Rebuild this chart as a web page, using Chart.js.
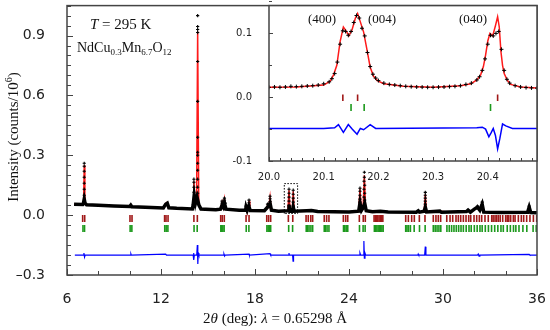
<!DOCTYPE html>
<html>
<head>
<meta charset="utf-8">
<script src="https://cdn.jsdelivr.net/npm/chart.js@4.4.1/dist/chart.umd.min.js"></script>
<style>
html, body { margin: 0; padding: 0; background: #fff; }
#wrap { position: relative; width: 550px; height: 330px; }
#mainChart { position: absolute; left: 0; top: 0; }
#insetChart { position: absolute; left: 225px; top: 0; }
</style>
</head>
<body>
<div id="wrap">
  <canvas id="mainChart" width="550" height="330"></canvas>
  <canvas id="insetChart" width="325" height="190"></canvas>
</div>
<script>
// ---- main pattern: 2theta (deg) vs intensity (counts/10^6) ----
const mainTicksX = [6, 12, 18, 24, 30, 36];
const mainTicksY = [-0.3, 0.0, 0.3, 0.6, 0.9];

// observed background band (dense points drawn as a thick line)
const mainObsBase = [
  [6.45,0.055],[7.0,0.053],[7.05,0.06],[7.1,0.08],[7.15,0.06],[7.25,0.052],[8,0.049],[9,0.046],
  [10.0,0.043],[10.07,0.05],[10.14,0.042],[11,0.04],[12.15,0.036],[12.3,0.055],[12.4,0.06],[12.5,0.037],
  [13,0.034],[14.0,0.031],[14.05,0.05],[14.12,0.1],[14.2,0.06],[14.3,0.09],[14.42,0.05],[14.55,0.031],
  [15.5,0.027],[15.8,0.03],[15.9,0.05],[15.98,0.04],[16.05,0.06],[16.15,0.03],[17,0.024],[17.4,0.024],
  [17.43,0.04],[17.5,0.024],[17.6,0.045],[17.7,0.023],[18.6,0.022],[18.8,0.04],[18.96,0.06],[19.05,0.025],
  [19.5,0.02],[20.12,0.022],[20.17,0.05],[20.23,0.02],[20.4,0.02],[20.44,0.04],[20.5,0.02],[21.3,0.022],
  [21.6,0.023],[22,0.018],[23,0.017],[24.0,0.016],[24.62,0.02],[24.7,0.06],[24.8,0.025],[24.92,0.04],
  [25.0,0.06],[25.1,0.022],[25.5,0.017],[26,0.019],[26.5,0.016],[28.3,0.015],[28.42,0.022],[28.5,0.015],
  [28.8,0.02],[28.87,0.04],[28.95,0.016],[29.8,0.02],[29.9,0.014],[31.5,0.018],[31.6,0.025],[31.75,0.015],
  [32.0,0.03],[32.2,0.04],[32.35,0.025],[32.5,0.055],[32.6,0.015],[33.5,0.013],[35.4,0.014],[35.5,0.04],
  [35.6,0.013],[36,0.012]
];
// observed points standing out on the peaks
const mainObsPeaks = [
  [7.1,0.26],[7.1,0.245],[7.1,0.22],[7.1,0.19],[7.1,0.16],[7.1,0.13],[7.1,0.1],
  [14.1,0.18],[14.1,0.165],[14.1,0.14],[14.1,0.115],
  [14.34,1.0],[14.34,0.945],[14.34,0.93],[14.34,0.915],[14.34,0.77],[14.34,0.57],[14.34,0.39],
  [14.34,0.315],[14.34,0.3],[14.34,0.26],[14.34,0.225],[14.34,0.18],[14.34,0.14],[14.34,0.11],
  [15.9,0.07],[15.9,0.06],[16.05,0.085],[16.05,0.075],[16.05,0.065],[16.1,0.06],
  [17.43,0.045],[17.62,0.075],[17.62,0.062],[17.62,0.05],
  [18.8,0.055],[18.96,0.095],[18.96,0.082],[18.96,0.068],
  [20.17,0.13],[20.17,0.11],[20.17,0.09],[20.17,0.07],[20.17,0.05],
  [20.44,0.125],[20.44,0.105],[20.44,0.085],[20.44,0.065],[20.44,0.045],
  [24.7,0.135],[24.7,0.12],[24.7,0.1],[24.7,0.08],[24.7,0.065],
  [24.98,0.215],[24.98,0.19],[24.96,0.17],[25.0,0.15],[24.96,0.13],[25.0,0.11],[24.96,0.09],[25.0,0.075],
  [28.87,0.114],[28.87,0.1],[28.87,0.085],[28.87,0.07],[28.87,0.055],
  [32.5,0.065],[32.5,0.052],[32.2,0.045],[35.5,0.045]
];
const mainCalc = [
  [6.45,0.055],[7.0,0.053],[7.06,0.065],[7.1,0.25],[7.14,0.065],[7.2,0.053],[8,0.049],[9,0.046],
  [10.0,0.043],[10.07,0.052],[10.14,0.042],[11,0.04],[12.2,0.036],[12.3,0.058],[12.36,0.062],[12.45,0.038],
  [13,0.034],[14.0,0.031],[14.07,0.055],[14.1,0.17],[14.14,0.06],[14.27,0.06],[14.34,0.92],[14.41,0.05],
  [14.55,0.031],[15.5,0.027],[15.8,0.03],[15.9,0.065],[15.97,0.04],[16.05,0.08],[16.12,0.032],[17,0.024],
  [17.38,0.024],[17.43,0.042],[17.48,0.024],[17.57,0.025],[17.62,0.07],[17.67,0.025],[18.6,0.022],
  [18.75,0.03],[18.8,0.05],[18.88,0.04],[18.96,0.09],[19.03,0.028],[19.5,0.02],[20.1,0.02],[20.17,0.125],
  [20.24,0.02],[20.38,0.02],[20.44,0.12],[20.5,0.02],[21.3,0.02],[21.5,0.022],[22,0.018],[23,0.017],
  [24.0,0.016],[24.62,0.02],[24.7,0.13],[24.78,0.03],[24.9,0.03],[24.98,0.2],[25.06,0.025],[25.5,0.017],
  [26,0.019],[26.5,0.016],[28.3,0.015],[28.42,0.022],[28.5,0.015],[28.8,0.018],[28.87,0.105],[28.94,0.017],
  [29.8,0.019],[30.5,0.014],[31.5,0.018],[31.6,0.025],[31.75,0.015],[32.0,0.03],[32.2,0.042],[32.35,0.025],
  [32.5,0.06],[32.6,0.015],[33.5,0.013],[35.4,0.014],[35.5,0.042],[35.6,0.013],[36,0.012]
];
const mainDiff = [
  [6.5,-0.2],[7.05,-0.2],[7.08,-0.19],[7.12,-0.21],[7.16,-0.2],[10.05,-0.2],[10.08,-0.195],[10.1,-0.2],
  [12.3,-0.195],[12.35,-0.2],[14.05,-0.2],[14.08,-0.19],[14.1,-0.225],[14.13,-0.2],[14.28,-0.2],
  [14.32,-0.15],[14.35,-0.245],[14.38,-0.19],[14.42,-0.2],[16.0,-0.2],[16.02,-0.195],[16.06,-0.205],
  [16.1,-0.2],[17.62,-0.195],[17.64,-0.2],[18.96,-0.193],[19.0,-0.2],[20.15,-0.2],[20.17,-0.19],
  [20.19,-0.2],[20.4,-0.2],[20.43,-0.23],[20.46,-0.2],[24.65,-0.2],[24.7,-0.19],[24.74,-0.2],[24.9,-0.2],
  [24.95,-0.13],[24.98,-0.215],[25.02,-0.19],[25.06,-0.2],[28.4,-0.2],[28.42,-0.195],[28.45,-0.2],
  [28.83,-0.2],[28.87,-0.158],[28.91,-0.2],[32.2,-0.2],[32.25,-0.195],[32.3,-0.205],[32.35,-0.2],
  [35.5,-0.197],[35.55,-0.2],[36,-0.2]
];
// Bragg reflection positions, phase 1 (dark red) and phase 2 (green)
const mainPhase1 = [7.0,7.13,10.02,10.15,12.23,12.32,12.45,14.1,14.32,15.81,15.91,16.04,17.43,17.62,
  18.75,18.87,19.0,20.13,20.41,21.26,21.4,21.56,21.68,22.42,22.57,22.72,23.64,23.79,23.92,24.66,24.91,
  25.04,25.6,25.68,25.76,25.84,25.92,26.0,26.08,26.16,27.62,27.79,28.0,28.17,28.49,28.85,29.38,29.55,
  29.7,29.85,30.24,30.45,30.62,30.83,30.98,31.13,31.3,31.47,31.64,31.77,31.98,32.15,32.32,32.47,32.68,
  32.89,33.11,33.2,33.32,33.42,33.53,33.65,33.81,34.0,34.1,34.2,34.32,34.49,34.6,34.81,35.0,35.15,35.34,
  35.55,35.77,35.98];
const mainPhase2 = [7.02,7.12,10.03,10.14,12.24,12.33,12.44,14.11,14.31,15.82,15.88,15.95,16.03,17.44,
  17.61,18.76,18.84,18.92,19.0,20.15,20.4,21.27,21.36,21.45,21.57,21.68,22.42,22.5,22.6,22.72,23.65,
  23.73,23.82,23.92,24.67,24.9,25.03,25.62,25.7,25.78,25.86,25.94,26.02,26.1,26.18,27.62,27.7,27.8,
  27.92,28.16,28.5,28.86,29.38,29.5,29.62,29.74,29.86,30.25,30.4,30.55,30.7,30.85,31.0,31.15,31.3,31.48,
  31.66,31.8,32.0,32.18,32.36,32.5,32.7,32.9,33.1,33.3,33.5,33.7,33.85,34.1,34.3,34.5,34.65,34.85,35.1,
  35.35,35.75,35.95];
// dotted box marking the zoomed region
const zoomBoxX = [19.87, 20.72];
const zoomBoxY = [0.008, 0.158];

// ---- inset: 20.0 - 20.49 deg ----
const insetTicksX = [20.0, 20.1, 20.2, 20.3, 20.4];
const insetTicksY = [-0.1, 0.0, 0.1];
const insetObs = [
  [20.0,0.0155],[20.01,0.016],[20.02,0.0155],[20.03,0.016],[20.04,0.017],[20.05,0.0165],[20.06,0.017],
  [20.07,0.0175],[20.08,0.018],[20.09,0.019],[20.1,0.021],[20.11,0.024],[20.115,0.029],[20.12,0.037],
  [20.125,0.055],[20.13,0.083],[20.135,0.104],[20.14,0.103],[20.145,0.097],[20.15,0.103],[20.155,0.117],
  [20.16,0.128],[20.165,0.124],[20.17,0.108],[20.175,0.096],[20.18,0.07],[20.185,0.048],[20.19,0.036],
  [20.195,0.03],[20.2,0.026],[20.21,0.022],[20.22,0.02],[20.23,0.019],[20.24,0.018],[20.25,0.017],
  [20.26,0.0165],[20.27,0.016],[20.28,0.0158],[20.29,0.0155],[20.3,0.0155],[20.31,0.0158],[20.32,0.016],
  [20.33,0.0165],[20.34,0.017],[20.35,0.018],[20.36,0.02],[20.37,0.022],[20.38,0.027],[20.385,0.032],
  [20.39,0.042],[20.395,0.06],[20.4,0.083],[20.405,0.097],[20.41,0.096],[20.415,0.1],[20.42,0.103],
  [20.425,0.075],[20.43,0.042],[20.435,0.028],[20.44,0.022],[20.45,0.018],[20.46,0.016],[20.47,0.015],
  [20.48,0.0145],[20.49,0.0142]
];
const insetCalc = [
  [20.0,0.0155],[20.05,0.016],[20.1,0.019],[20.112,0.025],[20.118,0.035],[20.124,0.05],[20.13,0.087],
  [20.136,0.11],[20.141,0.104],[20.146,0.096],[20.152,0.106],[20.158,0.124],[20.162,0.131],[20.167,0.118],
  [20.173,0.102],[20.179,0.075],[20.185,0.047],[20.191,0.033],[20.198,0.026],[20.21,0.021],[20.246,0.017],
  [20.3,0.0155],[20.35,0.018],[20.369,0.021],[20.38,0.027],[20.387,0.035],[20.392,0.048],[20.396,0.066],
  [20.4,0.088],[20.404,0.1],[20.409,0.096],[20.414,0.112],[20.418,0.126],[20.421,0.11],[20.424,0.072],
  [20.427,0.05],[20.43,0.037],[20.436,0.026],[20.442,0.02],[20.46,0.016],[20.49,0.0145]
];
const insetDiff = [
  [20.0,-0.049],[20.1,-0.049],[20.12,-0.048],[20.127,-0.043],[20.136,-0.055],[20.145,-0.043],
  [20.152,-0.05],[20.161,-0.058],[20.167,-0.049],[20.173,-0.051],[20.185,-0.043],[20.195,-0.049],
  [20.38,-0.048],[20.39,-0.047],[20.396,-0.05],[20.402,-0.062],[20.406,-0.056],[20.41,-0.049],
  [20.414,-0.06],[20.418,-0.081],[20.422,-0.065],[20.427,-0.042],[20.433,-0.045],[20.445,-0.049],
  [20.49,-0.049]
];
const insetPhase1 = [20.135, 20.162, 20.418];
const insetPhase2 = [20.150, 20.174, 20.405];

const RED = '#ff1a1a', OBS = '#000', DIFF = '#0000ff', PH1 = '#a01818', PH2 = '#1c991c';
const AXIS = '#444';

const pts = a => a.map(([x, y]) => ({x, y}));
const bars = (a, y) => a.map(x => ({x, y}));

// text with italic / sub / superscript runs
const R = (t, size, o = {}) => ({t, size, it: !!o.it, dy: o.dy || 0});
function richText(ctx, runs, x, y, align) {
  const fontOf = r => (r.it ? 'italic ' : '') + r.size + 'px "Liberation Serif"';
  let w = 0;
  runs.forEach(r => { ctx.font = fontOf(r); w += ctx.measureText(r.t).width; });
  let cx = align === 'center' ? x - w / 2 : x;
  ctx.textAlign = 'left';
  ctx.textBaseline = 'alphabetic';
  runs.forEach(r => {
    ctx.font = fontOf(r);
    ctx.fillText(r.t, cx, y + r.dy);
    cx += ctx.measureText(r.t).width;
  });
}

// keep the plot area where the layout padding puts it
const noPad = s => { s.paddingTop = 0; s.paddingBottom = 0; s.paddingLeft = 0; s.paddingRight = 0; };

// frame plus inward ticks
function frameTicks(o) {
  return {
    id: 'frameTicks',
    beforeDraw(chart) {
      if (!o.fill) return;
      const a = chart.chartArea, ctx = chart.ctx;
      ctx.save();
      ctx.fillStyle = '#fff';
      ctx.fillRect(a.left, a.top, a.width, a.height);
      ctx.restore();
    },
    afterDraw(chart) {
      const {ctx, chartArea: a, scales: {x, y}} = chart;
      ctx.save();
      ctx.strokeStyle = AXIS;
      ctx.lineWidth = 1;
      ctx.beginPath();
      const nx = Math.round((x.max - o.x0) / o.xStep);
      for (let i = 0; i <= nx; i++) {
        const v = o.x0 + i * o.xStep;
        const major = o.xMajor.some(m => Math.abs(m - v) < 1e-6);
        const px = Math.round(x.getPixelForValue(v)) + 0.5;
        ctx.moveTo(px, a.bottom);
        ctx.lineTo(px, a.bottom - (major ? o.major : o.minor));
      }
      const ny = Math.round((y.max - o.y0) / o.yStep);
      for (let i = 0; i <= ny; i++) {
        const v = o.y0 + i * o.yStep;
        const major = o.yMajor.some(m => Math.abs(m - v) < 1e-6);
        const py = Math.round(y.getPixelForValue(v)) + 0.5;
        ctx.moveTo(a.left, py);
        ctx.lineTo(a.left + (major ? o.major : o.minor), py);
      }
      ctx.stroke();
      ctx.lineWidth = 1.5;
      ctx.strokeRect(a.left, a.top, a.width, a.height);
      ctx.restore();
    }
  };
}

const mainText = {
  id: 'mainText',
  afterDraw(chart) {
    const ctx = chart.ctx;
    ctx.save();
    ctx.fillStyle = '#111';
    richText(ctx, [R('T', 15, {it: true}), R(' = 295 K', 15)], 90, 29);
    richText(ctx, [R('NdCu', 14), R('0.3', 9, {dy: 3}), R('Mn', 14), R('6.7', 9, {dy: 3}),
                   R('O', 14), R('12', 9, {dy: 3})], 77, 52);
    richText(ctx, [R('2', 15), R('θ', 15, {it: true}), R(' (deg): ', 15), R('λ', 15, {it: true}),
                   R(' = 0.65298 Å', 15)], 275, 323, 'center');
    ctx.translate(13, 137);
    ctx.rotate(-Math.PI / 2);
    richText(ctx, [R('Intensity (counts/10', 15), R('6', 10, {dy: -6}), R(')', 15)], 0, 5, 'center');
    ctx.restore();
  }
};

const insetText = {
  id: 'insetText',
  afterDraw(chart) {
    const ctx = chart.ctx;
    ctx.save();
    ctx.fillStyle = '#111';
    richText(ctx, [R('(400)', 13)], 308 - 225, 23);
    richText(ctx, [R('(004)', 13)], 368 - 225, 23);
    richText(ctx, [R('(040)', 13)], 459 - 225, 23);
    ctx.restore();
  }
};

const lineDs = (data, color, width, order) => ({
  data, showLine: true, borderColor: color, borderWidth: width, pointRadius: 0,
  tension: 0, fill: false, order
});
const markDs = (data, color, radius, order) => ({
  data, showLine: false, pointStyle: 'line', rotation: 90, pointRadius: radius,
  borderColor: color, backgroundColor: color, pointBorderWidth: 1.6, order
});

const boxX = [zoomBoxX[0], zoomBoxX[0], zoomBoxX[1], zoomBoxX[1], zoomBoxX[0]];
const boxY = [zoomBoxY[0], zoomBoxY[1], zoomBoxY[1], zoomBoxY[0], zoomBoxY[0]];

new Chart(document.getElementById('mainChart').getContext('2d'), {
  type: 'scatter',
  data: {
    datasets: [
      {data: pts(mainObsPeaks), showLine: false, pointStyle: 'cross', pointRadius: 1.6,
       pointBorderWidth: 1.1, borderColor: OBS, backgroundColor: OBS, order: 0},
      lineDs(pts(mainObsBase), OBS, 3.5, 1),
      lineDs(pts(mainCalc), RED, 1.5, 2),
      lineDs(pts(mainDiff), DIFF, 1.2, 3),
      markDs(bars(mainPhase1, -0.0174), PH1, 3.5, 4),
      markDs(bars(mainPhase2, -0.067), PH2, 3.5, 5),
      Object.assign(lineDs(boxX.map((x, i) => ({x, y: boxY[i]})), '#000', 1, 6), {borderDash: [1.5, 1.5]})
    ]
  },
  options: {
    responsive: false,
    animation: false,
    layout: {padding: {left: 0, right: 13, top: 4, bottom: 0}},
    plugins: {legend: {display: false}, tooltip: {enabled: false}},
    scales: {
      x: {
        type: 'linear', min: 6, max: 36,
        afterBuildTicks: s => { s.ticks = mainTicksX.map(value => ({value})); },
        afterFit: s => { s.height = 55; noPad(s); },
        grid: {display: false}, border: {display: false},
        ticks: {color: '#222', padding: 8, font: {family: 'DejaVu Sans', size: 14},
                maxRotation: 0, callback: v => String(v)}
      },
      y: {
        type: 'linear', min: -0.3, max: 1.05,
        afterBuildTicks: s => { s.ticks = mainTicksY.map(value => ({value})); },
        afterFit: s => { s.width = 67; noPad(s); },
        grid: {display: false}, border: {display: false},
        ticks: {color: '#222', padding: 14, font: {family: 'DejaVu Sans', size: 14},
                callback: v => (v < 0 ? '\u2013' : '') + Math.abs(v).toFixed(1)}
      }
    }
  },
  plugins: [frameTicks({x0: 6, xStep: 2, xMajor: mainTicksX, y0: -0.3, yStep: 0.05,
                        yMajor: mainTicksY, major: 6, minor: 4}), mainText]
});

new Chart(document.getElementById('insetChart').getContext('2d'), {
  type: 'scatter',
  data: {
    datasets: [
      {data: pts(insetObs), showLine: false, pointStyle: 'cross', pointRadius: 2,
       pointBorderWidth: 1, borderColor: OBS, backgroundColor: OBS, order: 0},
      lineDs(pts(insetCalc), RED, 1.5, 1),
      lineDs(pts(insetDiff), DIFF, 1.5, 2),
      markDs(bars(insetPhase1, -0.001), PH1, 3.3, 3),
      markDs(bars(insetPhase2, -0.016), PH2, 3.5, 4)
    ]
  },
  options: {
    responsive: false,
    animation: false,
    layout: {padding: {left: 0, right: 13, top: 4, bottom: 0}},
    plugins: {legend: {display: false}, tooltip: {enabled: false}},
    scales: {
      x: {
        type: 'linear', min: 20.0, max: 20.49,
        afterBuildTicks: s => { s.ticks = insetTicksX.map(value => ({value})); },
        afterFit: s => { s.height = 29; noPad(s); },
        grid: {display: false}, border: {display: false},
        ticks: {color: '#222', padding: 2, font: {family: 'DejaVu Sans', size: 10},
                maxRotation: 0, callback: v => v.toFixed(1)}
      },
      y: {
        type: 'linear', min: -0.1, max: 0.1435,
        afterBuildTicks: s => { s.ticks = insetTicksY.map(value => ({value})); },
        afterFit: s => { s.width = 44; noPad(s); },
        grid: {display: false}, border: {display: false},
        ticks: {color: '#222', padding: 9, font: {family: 'DejaVu Sans', size: 10},
                callback: v => v.toFixed(1)}
      }
    }
  },
  plugins: [frameTicks({fill: true, x0: 20.0, xStep: 0.02, xMajor: insetTicksX, y0: -0.1, yStep: 0.05,
                        yMajor: insetTicksY, major: 4, minor: 3}), insetText]
});
</script>
</body>
</html>
